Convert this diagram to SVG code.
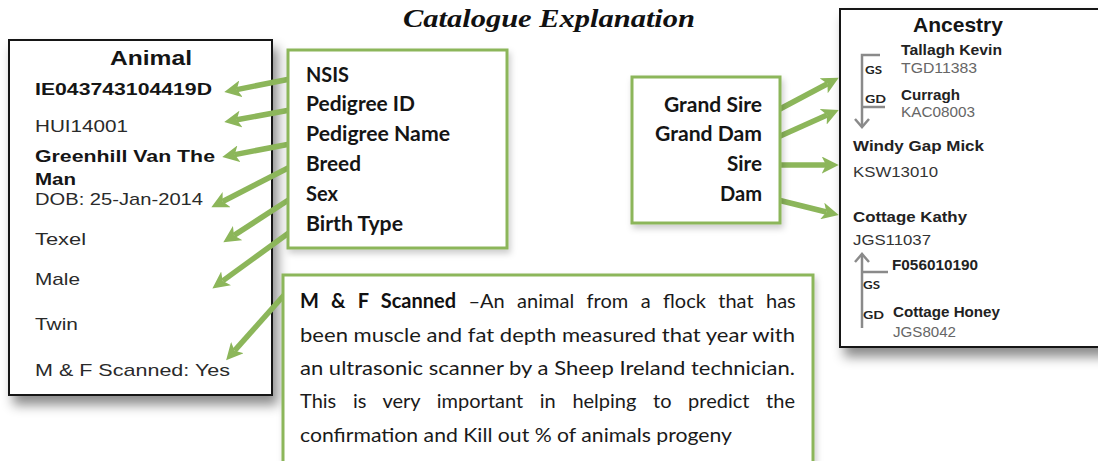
<svg xmlns="http://www.w3.org/2000/svg" width="1098" height="461" viewBox="0 0 1098 461">
<style>
.title{font-family:"Liberation Serif","DejaVu Serif",serif;font-weight:bold;font-style:italic;font-size:25px;fill:#111}
.blk{fill:#fff;stroke:#151515;stroke-width:2}
.grn{fill:#fff;stroke:#8cb65a;stroke-width:3}
.ar{font-family:"Liberation Sans",Arial,sans-serif;font-size:17px;fill:#2a2a2a}
.arb{font-family:"Liberation Sans",Arial,sans-serif;font-size:17px;font-weight:bold;fill:#151515}
.hd{font-family:"Liberation Sans",Arial,sans-serif;font-size:21px;font-weight:bold;fill:#151515}
.cb{font-family:Lato,"Open Sans",sans-serif;font-size:20px;font-weight:bold;fill:#151515}
.cr{font-family:Lato,"Open Sans",sans-serif;font-size:20px;fill:#1a1a1a}
.crb{font-weight:bold;fill:#111}
.an{font-family:"Liberation Sans",Arial,sans-serif;font-size:14.5px;font-weight:bold;fill:#222}
.ac{font-family:"Liberation Sans",Arial,sans-serif;font-size:14.5px;fill:#666}
.anb{font-family:"Liberation Sans",Arial,sans-serif;font-size:15px;font-weight:bold;fill:#222}
.acb{font-family:"Liberation Sans",Arial,sans-serif;font-size:15px;fill:#333}
.gs{font-family:Lato,"Open Sans",sans-serif;font-size:11.5px;font-weight:bold;fill:#222}
.br{fill:none;stroke:#8a8a8a;stroke-width:2.5}
.con line{stroke:#8cb65a;stroke-width:5.5}
</style>
<defs>
<filter id="sh" x="-10%" y="-10%" width="130%" height="130%">
<feDropShadow dx="5" dy="9" stdDeviation="6" flood-color="#000" flood-opacity="0.45"/>
</filter>
<filter id="sh2" x="-10%" y="-10%" width="130%" height="130%">
<feDropShadow dx="2" dy="4" stdDeviation="3" flood-color="#000" flood-opacity="0.2"/>
</filter>
<marker id="ah" viewBox="0 0 16 16" markerWidth="17" markerHeight="17" refX="4" refY="8" orient="auto" markerUnits="userSpaceOnUse">
<path d="M0,0 L16,8 L0,16 L4,8 z" fill="#8cb65a"/>
</marker>
</defs>
<rect width="1098" height="461" fill="#fff"/>

<text class="title" x="403" y="27" textLength="292" lengthAdjust="spacingAndGlyphs">Catalogue Explanation</text>

<g id="animal">
<rect class="blk" x="9" y="40" width="263" height="355" filter="url(#sh)"/>
<text class="hd" x="151" y="65" text-anchor="middle" textLength="82" lengthAdjust="spacingAndGlyphs">Animal</text>
<text class="arb" x="35" y="95" textLength="177" lengthAdjust="spacingAndGlyphs">IE043743104419D</text>
<text class="ar" x="35" y="132" textLength="93" lengthAdjust="spacingAndGlyphs">HUI14001</text>
<text class="arb" x="35" y="162" textLength="180" lengthAdjust="spacingAndGlyphs">Greenhill Van The</text>
<text class="arb" x="35" y="185" textLength="41" lengthAdjust="spacingAndGlyphs">Man</text>
<text class="ar" x="35" y="205" textLength="168" lengthAdjust="spacingAndGlyphs">DOB: 25-Jan-2014</text>
<text class="ar" x="35" y="245" textLength="51" lengthAdjust="spacingAndGlyphs">Texel</text>
<text class="ar" x="35" y="285" textLength="45" lengthAdjust="spacingAndGlyphs">Male</text>
<text class="ar" x="35" y="330" textLength="43" lengthAdjust="spacingAndGlyphs">Twin</text>
<text class="ar" x="35" y="376" textLength="195" lengthAdjust="spacingAndGlyphs">M &amp; F Scanned: Yes</text>
</g>

<g id="ancestry">
<rect class="blk" x="840" y="9" width="270" height="338" filter="url(#sh)"/>
<text class="hd" x="958" y="32" text-anchor="middle" textLength="90" lengthAdjust="spacingAndGlyphs">Ancestry</text>
<path class="br" d="M880,55 H862 V126"/>
<path class="br" d="M855,119 L862,127 L869,119"/>
<path class="br" d="M862,107 H885"/>
<text class="gs" x="865" y="74" textLength="17" lengthAdjust="spacingAndGlyphs">GS</text>
<text class="gs" x="865" y="103" textLength="21" lengthAdjust="spacingAndGlyphs">GD</text>
<text class="an" x="901" y="55" textLength="101" lengthAdjust="spacingAndGlyphs">Tallagh Kevin</text>
<text class="ac" x="901" y="73" textLength="76" lengthAdjust="spacingAndGlyphs">TGD11383</text>
<text class="an" x="901" y="100" textLength="59" lengthAdjust="spacingAndGlyphs">Curragh</text>
<text class="ac" x="901" y="117" textLength="74" lengthAdjust="spacingAndGlyphs">KAC08003</text>
<text class="anb" x="853" y="151" textLength="131" lengthAdjust="spacingAndGlyphs">Windy Gap Mick</text>
<text class="acb" x="853" y="177" textLength="85" lengthAdjust="spacingAndGlyphs">KSW13010</text>
<text class="anb" x="853" y="222" textLength="114" lengthAdjust="spacingAndGlyphs">Cottage Kathy</text>
<text class="acb" x="853" y="245" textLength="78" lengthAdjust="spacingAndGlyphs">JGS11037</text>
<path class="br" d="M862,328 V254"/>
<path class="br" d="M855,262 L862,254 L869,262"/>
<path class="br" d="M862,272 H888"/>
<text class="an" x="892" y="270" textLength="86" lengthAdjust="spacingAndGlyphs">F056010190</text>
<text class="gs" x="863" y="289" textLength="17" lengthAdjust="spacingAndGlyphs">GS</text>
<text class="gs" x="863" y="319" textLength="21" lengthAdjust="spacingAndGlyphs">GD</text>
<text class="an" x="893" y="317" textLength="107" lengthAdjust="spacingAndGlyphs">Cottage Honey</text>
<text class="ac" x="893" y="337" textLength="63" lengthAdjust="spacingAndGlyphs">JGS8042</text>
</g>

<g id="connectors" class="con">
<line x1="290" y1="79" x2="236.8" y2="89.6" marker-end="url(#ah)"/>
<line x1="290" y1="110" x2="236.8" y2="119.8" marker-end="url(#ah)"/>
<line x1="290" y1="144" x2="234.8" y2="154.6" marker-end="url(#ah)"/>
<line x1="290" y1="167" x2="222.7" y2="201.5" marker-end="url(#ah)"/>
<line x1="290" y1="199" x2="234" y2="235.4" marker-end="url(#ah)"/>
<line x1="290" y1="232" x2="222.7" y2="280.9" marker-end="url(#ah)"/>
<line x1="285" y1="294" x2="234.6" y2="350.7" marker-end="url(#ah)"/>
<line x1="778" y1="110" x2="827.5" y2="83.8" marker-end="url(#ah)"/>
<line x1="778" y1="137" x2="827.1" y2="115.1" marker-end="url(#ah)"/>
<line x1="778" y1="165" x2="826" y2="165" marker-end="url(#ah)"/>
<line x1="778" y1="200" x2="826.4" y2="212" marker-end="url(#ah)"/>
</g>

<g id="fields">
<rect class="grn" x="288" y="50" width="219" height="198" filter="url(#sh2)"/>
<text class="cb" x="306" y="82" textLength="43" lengthAdjust="spacingAndGlyphs">NSIS</text>
<text class="cb" x="306" y="111" textLength="109" lengthAdjust="spacingAndGlyphs">Pedigree ID</text>
<text class="cb" x="306" y="141" textLength="144" lengthAdjust="spacingAndGlyphs">Pedigree Name</text>
<text class="cb" x="306" y="171" textLength="55" lengthAdjust="spacingAndGlyphs">Breed</text>
<text class="cb" x="306" y="201" textLength="32" lengthAdjust="spacingAndGlyphs">Sex</text>
<text class="cb" x="306" y="231" textLength="97" lengthAdjust="spacingAndGlyphs">Birth Type</text>
</g>

<g id="parents">
<rect class="grn" x="632" y="77" width="148" height="146" filter="url(#sh2)"/>
<text class="cb" x="762" y="112" text-anchor="end" textLength="98" lengthAdjust="spacingAndGlyphs">Grand Sire</text>
<text class="cb" x="762" y="141" text-anchor="end" textLength="107" lengthAdjust="spacingAndGlyphs">Grand Dam</text>
<text class="cb" x="762" y="171" text-anchor="end" textLength="35" lengthAdjust="spacingAndGlyphs">Sire</text>
<text class="cb" x="762" y="201" text-anchor="end" textLength="42" lengthAdjust="spacingAndGlyphs">Dam</text>
</g>

<g id="scanned">
<rect class="grn" x="283" y="275" width="530" height="200" filter="url(#sh2)"/>
<text class="cr" x="300" y="308" word-spacing="7.3"><tspan class="crb">M &amp; F Scanned</tspan> –An animal from a flock that has</text>
<text class="cr" x="300" y="342" textLength="495" lengthAdjust="spacingAndGlyphs">been muscle and fat depth measured that year with</text>
<text class="cr" x="300" y="375" textLength="495" lengthAdjust="spacingAndGlyphs">an ultrasonic scanner by a Sheep Ireland technician.</text>
<text class="cr" x="300" y="408" word-spacing="11.5">This is very important in helping to predict the</text>
<text class="cr" x="300" y="442" textLength="432" lengthAdjust="spacingAndGlyphs">confirmation and Kill out % of animals progeny</text>
</g>
</svg>
